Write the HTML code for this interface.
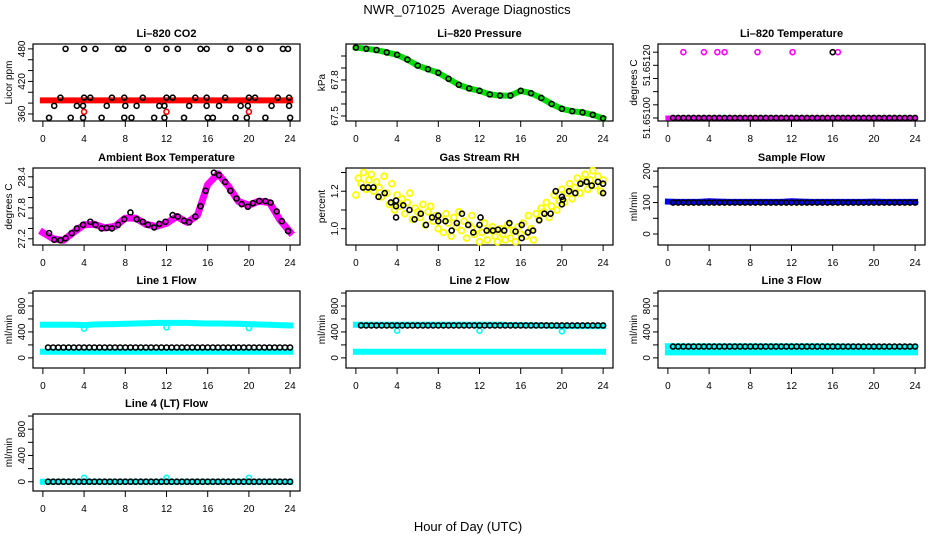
<!DOCTYPE html>
<html><head><meta charset="utf-8"><style>
html,body{margin:0;padding:0;background:#fff;}
svg{display:block;font-family:"Liberation Sans",Arial,sans-serif;}
</style></head><body>
<svg id="chart" width="936" height="540" viewBox="0 0 936 540" xmlns="http://www.w3.org/2000/svg">
<text x="467" y="14" text-anchor="middle" font-size="13" style="white-space:pre">NWR_071025&#160; Average Diagnostics</text>
<text x="468" y="531" text-anchor="middle" font-size="13">Hour of Day (UTC)</text>
</svg>
<script>
// ---------- shared data ----------
const xTicks = [0,4,8,12,16,20,24];
const hours = [0,1,2,3,4,5,6,7,8,9,10,11,12,13,14,15,16,17,18,19,20,21,22,23,24];
const halfHours = [0.5,1,1.5,2,2.5,3,3.5,4,4.5,5,5.5,6,6.5,7,7.5,8,8.5,9,9.5,10,10.5,11,11.5,12,12.5,13,13.5,14,14.5,15,15.5,16,16.5,17,17.5,18,18.5,19,19.5,20,20.5,21,21.5,22,22.5,23,23.5,24];

// CO2
const co2BandValues = [385,385,385,385,385,385,385,385,385,385,385,385,385,385,385,385,385,385,385,385,385,385,385,385,385];
const co2RedOutTimes = [4,12,20];
const co2RedOutValues = [364,364,364];
const co2BlackTimes = [2.2,4.0,5.1,7.3,7.8,10.2,12.0,13.1,15.3,15.9,18.2,20.0,21.1,23.3,23.8,
 1.7,4.0,4.6,6.7,7.9,9.7,12.0,12.6,14.8,15.9,17.7,20.0,20.6,22.8,23.9,
 1.1,3.3,3.9,6.2,8.0,9.1,11.3,11.8,14.2,15.9,17.1,19.2,19.9,22.2,23.9,
 0.6,2.7,3.9,5.7,7.9,8.6,10.8,11.8,13.7,16.0,16.5,18.7,19.8,21.6,24.0];
const co2BlackValues = [480,480,480,480,480,480,480,480,480,480,480,480,480,480,480,
 390,390,390,390,390,390,390,390,390,390,390,390,390,390,390,
 375,375,375,375,375,375,375,375,375,375,375,375,375,375,375,
 353,353,353,353,353,353,353,353,353,353,353,353,353,353,353];

// Pressure
const pressValues = [68.07,68.06,68.05,68.03,68.01,67.97,67.92,67.89,67.86,67.81,67.76,67.73,67.71,67.68,67.67,67.67,67.71,67.69,67.65,67.60,67.56,67.54,67.53,67.51,67.48];

// Li-820 temperature
const ltempBandValues = [51.651,51.651,51.651,51.651,51.651,51.651,51.651,51.651,51.651,51.651,51.651,51.651,51.651,51.651,51.651,51.651,51.651,51.651,51.651,51.651,51.651,51.651,51.651,51.651,51.651];
const ltempHighTimes = [1.5,3.5,4.8,5.5,8.7,12.1,16.5];
const ltempHighValues = [51.65125,51.65125,51.65125,51.65125,51.65125,51.65125,51.65125];
const ltempBlackHighTimes = [16.0];
const ltempBlackHighValues = [51.65125];
const ltempBlackValue = 51.651;

// Ambient box temperature
const ambBandValues = [27.32,27.20,27.17,27.33,27.47,27.48,27.41,27.44,27.60,27.60,27.48,27.44,27.50,27.63,27.52,27.65,28.25,28.46,28.22,27.92,27.85,27.93,27.90,27.57,27.33];
const ambBlackTimes = [0.6,1.1,1.7,2.2,2.8,3.3,3.9,4.6,5.1,5.7,6.2,6.7,7.3,7.9,8.5,9.1,9.7,10.2,10.8,11.3,11.9,12.6,13.1,13.7,14.2,14.8,15.3,15.8,16.6,17.1,17.7,18.2,18.8,19.3,19.9,20.4,21.0,21.6,22.1,22.7,23.2,23.8];
const ambBlackValues = [27.31,27.18,27.17,27.21,27.31,27.40,27.47,27.53,27.47,27.40,27.41,27.40,27.47,27.58,27.71,27.58,27.53,27.47,27.42,27.49,27.53,27.66,27.63,27.55,27.52,27.63,27.83,28.13,28.48,28.43,28.30,28.13,27.98,27.87,27.82,27.89,27.93,27.93,27.90,27.73,27.54,27.35];

// Gas stream RH (yellow every 0.25 h)
const rhYellowValues = [1.18,1.27,1.24,1.30,1.21,1.26,1.29,1.20,1.25,
 1.22,1.17,1.28,1.19,1.13,1.24,1.10,1.18,
 1.12,1.16,1.08,1.14,1.19,1.05,1.11,1.09,
 1.06,1.13,1.02,1.09,1.12,1.04,1.07,1.00,
 1.05,0.98,1.08,1.03,0.96,1.06,1.01,1.09,
 0.99,1.04,0.95,1.02,1.07,0.97,1.00,0.93,
 0.98,1.03,0.94,0.99,1.01,0.96,0.93,1.00,
 0.97,0.94,1.02,0.95,0.99,0.93,1.01,0.97,
 1.03,0.96,1.07,1.00,0.94,1.08,1.05,1.11,
 1.09,1.14,1.06,1.12,1.18,1.10,1.15,1.21,
 1.14,1.19,1.24,1.16,1.22,1.27,1.19,1.25,
 1.29,1.21,1.26,1.31,1.23,1.28,1.20,1.26];
const rhBlackTimes = [0.7,1.2,1.7,2.2,2.8,3.4,3.9,3.9,3.9,4.6,5.2,5.7,6.3,6.8,7.4,8.0,8.0,8.7,9.3,9.8,10.3,10.9,11.4,12.0,12.1,12.7,13.3,13.8,14.4,14.9,15.5,16.1,16.1,16.7,17.2,17.8,18.3,18.9,19.4,20.0,20.0,20.1,20.7,21.3,21.8,22.4,22.9,23.5,24.0,24.0];
const rhBlackValues = [1.22,1.22,1.22,1.17,1.19,1.14,1.15,1.12,1.06,1.125,1.10,1.05,1.08,1.02,1.06,1.07,1.04,1.04,0.99,1.03,1.08,1.02,0.98,1.02,1.06,0.99,0.99,0.995,0.99,1.03,0.985,1.02,0.95,0.98,0.99,1.045,1.08,1.08,1.20,1.17,1.13,1.155,1.20,1.19,1.24,1.25,1.23,1.25,1.24,1.19];

// Flows
const sampleBandValues = [103,102,102,102,104,103,102,102,102,102,102,102,104,103,102,102,102,102,102,102,103,102,102,102,102];
const sampleBlackValue = 100;
const line1UpperValues = [510,510,510,512,505,515,518,520,525,530,535,540,540,540,540,535,530,530,528,525,520,515,510,505,500];
const line1LowerValues = [95,95,95,95,95,95,95,95,95,95,95,95,95,95,95,95,95,95,95,95,95,95,95,95,95];
const line1OutTimes = [4,12,20];
const line1OutValues = [450,470,460];
const line1BlackValue = 160;
const line2UpperValues = [510,510,510,510,510,510,510,510,510,510,510,510,510,510,510,505,505,500,500,495,490,490,490,490,490];
const line2LowerValues = [95,95,95,95,95,95,95,95,95,95,95,95,95,95,95,95,95,95,95,95,95,95,95,95,95];
const line2OutTimes = [4,12,20];
const line2OutValues = [420,420,410];
const line2BlackValue = 500;
const line3UpperValues = [180,180,180,180,180,180,180,180,180,180,180,180,180,180,180,180,180,175,175,170,170,170,170,170,170];
const line3LowerValues = [85,85,85,85,85,85,85,85,85,85,85,85,85,85,85,85,85,85,85,85,85,85,85,85,85];
const line3BlackValue = 175;
const line4BandValues = [0,0,0,0,0,0,0,0,0,0,0,0,0,0,0,0,0,0,0,0,0,0,0,0,0];
const line4OutTimes = [4,12,20];
const line4OutValues = [60,60,60];
const line4BlackValue = 0;
const flowTicks = [0,200,400,600,800,1000];
const flowLabels = ["0","","400","","800",""];

// ---------- rendering ----------
const NS = "http://www.w3.org/2000/svg";
const svg = document.getElementById("chart");
const colX = [33, 346, 658];
const rowY = [44, 168, 291, 414];
const W = 267, H = 77;
const XLO = -0.96, XHI = 24.96;

function mk(tag, attrs, parent){
  const e = document.createElementNS(NS, tag);
  for (const k in attrs) e.setAttribute(k, attrs[k]);
  (parent||svg).appendChild(e);
  return e;
}
function makePanel(name, col, row, ylo, yhi, yticks, ylabels, title, ytitle, showXLabels){
  const x0 = colX[col], y0 = rowY[row];
  const g = mk("g", {});
  
  
  const p = {
    g,
    sx: h => x0 + (h - XLO) / (XHI - XLO) * W,
    sy: v => y0 + H - (v - ylo) / (yhi - ylo) * H
  };
  const t = mk("text", {x: x0 + W/2, y: y0 - 7, "text-anchor": "middle", "font-size": "11", "font-weight": "bold"}, g);
  t.textContent = title;
  
  
  const yt = mk("text", {transform: `translate(${x0-21},${y0+H/2}) rotate(-90)`, "text-anchor": "middle", "font-size": "10"}, g);
  yt.textContent = ytitle;
  
  
  yticks.forEach((v,i) => {
    const y = p.sy(v);
    mk("line", {x1: x0-5, x2: x0, y1: y, y2: y, stroke: "#000", "stroke-width": 1}, g);
    if (ylabels[i]) {
      const lt = mk("text", {transform: `translate(${x0-8},${y}) rotate(-90)`, "text-anchor": "middle", "font-size": "10"}, g);
      lt.textContent = ylabels[i];
      
      
    }
  });
  xTicks.forEach(h => {
    const x = p.sx(h);
    mk("line", {x1: x, x2: x, y1: y0+H, y2: y0+H+6, stroke: "#000", "stroke-width": 1}, g);
    if (showXLabels) {
      const xt = mk("text", {x: x, y: y0+H+21, "text-anchor": "middle", "font-size": "10"}, g);
      xt.textContent = String(h);
      
      
    }
  });
  const box = mk("rect", {x: x0, y: y0, width: W, height: H, fill: "none", stroke: "#000", "stroke-width": 1.2}, g);
  
  
  return p;
}
function band(p, times, values, color, width, name){
  const pts = times.map((h,i) => p.sx(h).toFixed(1) + "," + p.sy(values[i]).toFixed(1)).join(" ");
  const pl = mk("polyline", {points: pts, fill: "none", stroke: color, "stroke-width": width, "stroke-linejoin": "round", "stroke-linecap": "square"}, p.g);
  
  
}
function dots(p, times, values, color, name, r, sw){
  times.forEach((h,i) => {
    const c = mk("circle", {cx: p.sx(h), cy: p.sy(values[i]), r: r||2.5, fill: "none", stroke: color, "stroke-width": sw||1.6}, p.g);
    
    
  });
}
function constDots(p, times, value, color, name){
  times.forEach(h => {
    const c = mk("circle", {cx: p.sx(h), cy: p.sy(value), r: 2.5, fill: "none", stroke: color, "stroke-width": 1.6}, p.g);
    
    
  });
}

// CO2
let p = makePanel("co2", 0, 0, 347, 489, [360,380,400,420,440,460,480], ["360","","","420","","","480"], "Li\u2013820 CO2", "Licor ppm", true);
band(p, hours, co2BandValues, "#ff0000", 6, "co2-red-band");
dots(p, co2RedOutTimes, co2RedOutValues, "#ff0000", "co2-red-point");
dots(p, co2BlackTimes, co2BlackValues, "#000", "co2-black-point");

// Pressure
p = makePanel("pressure", 1, 0, 67.458, 68.10, [67.5,67.6,67.7,67.8,67.9,68.0], ["67.5","","","67.8","",""], "Li\u2013820 Pressure", "kPa", true);
band(p, hours, pressValues, "#00dd00", 6, "pressure-green-band");
dots(p, hours, pressValues, "#000", "pressure-black-point");

// Li-820 Temperature
p = makePanel("li820-temp", 2, 0, 51.6509885, 51.651281, [51.651,51.65105,51.6511,51.65115,51.6512,51.65125], ["51.65100","","","","51.65120",""], "Li\u2013820 Temperature", "degrees C", true);
band(p, hours, ltempBandValues, "#ff00ff", 5, "li820-temp-magenta-band");
dots(p, ltempHighTimes, ltempHighValues, "#ff00ff", "li820-temp-magenta-point");
dots(p, ltempBlackHighTimes, ltempBlackHighValues, "#000", "li820-temp-black-point");
constDots(p, halfHours, ltempBlackValue, "#000", "li820-temp-black-point");

// Ambient Box Temperature
p = makePanel("ambient-temp", 0, 1, 27.08, 28.57, [27.2,27.4,27.6,27.8,28.0,28.2,28.4], ["27.2","","","27.8","","","28.4"], "Ambient Box Temperature", "degrees C", true);
band(p, hours, ambBandValues, "#ff00ff", 7, "ambient-temp-magenta-band");
dots(p, ambBlackTimes, ambBlackValues, "#000", "ambient-temp-black-point");

// Gas Stream RH
p = makePanel("gas-rh", 1, 1, 0.913, 1.324, [1.0,1.1,1.2,1.3], ["1.0","","1.2",""], "Gas Stream RH", "percent", true);
const rhTimes = rhYellowValues.map((v,i) => i * 0.25);
dots(p, rhTimes, rhYellowValues, "#ffff00", "gas-rh-yellow-point", 2.9, 1.9);
dots(p, rhBlackTimes, rhBlackValues, "#000", "gas-rh-black-point");

// Sample Flow
p = makePanel("sample-flow", 2, 1, -35, 210, [0,50,100,150,200], ["0","","100","","200"], "Sample Flow", "ml/min", true);
band(p, hours, sampleBandValues, "#0000ff", 6, "sample-flow-blue-band");
constDots(p, halfHours, sampleBlackValue, "#000", "sample-flow-black-point");

// Line 1
p = makePanel("line1-flow", 0, 2, -156, 1031, flowTicks, flowLabels, "Line 1 Flow", "ml/min", true);
band(p, hours, line1UpperValues, "#00ffff", 6, "line1-cyan-upper-band");
band(p, hours, line1LowerValues, "#00ffff", 6, "line1-cyan-lower-band");
dots(p, line1OutTimes, line1OutValues, "#00ffff", "line1-cyan-point");
constDots(p, halfHours, line1BlackValue, "#000", "line1-black-point");

// Line 2
p = makePanel("line2-flow", 1, 2, -156, 1031, flowTicks, flowLabels, "Line 2 Flow", "ml/min", true);
band(p, hours, line2UpperValues, "#00ffff", 6, "line2-cyan-upper-band");
band(p, hours, line2LowerValues, "#00ffff", 6, "line2-cyan-lower-band");
dots(p, line2OutTimes, line2OutValues, "#00ffff", "line2-cyan-point");
constDots(p, halfHours, line2BlackValue, "#000", "line2-black-point");

// Line 3
p = makePanel("line3-flow", 2, 2, -156, 1031, flowTicks, flowLabels, "Line 3 Flow", "ml/min", true);
band(p, hours, line3UpperValues, "#00ffff", 6, "line3-cyan-upper-band");
band(p, hours, line3LowerValues, "#00ffff", 6, "line3-cyan-lower-band");
constDots(p, halfHours, line3BlackValue, "#000", "line3-black-point");

// Line 4
p = makePanel("line4-flow", 0, 3, -141, 1031, flowTicks, flowLabels, "Line 4 (LT) Flow", "ml/min", true);
band(p, hours, line4BandValues, "#00ffff", 6, "line4-cyan-band");
dots(p, line4OutTimes, line4OutValues, "#00ffff", "line4-cyan-point");
constDots(p, halfHours, line4BlackValue, "#000", "line4-black-point");
</script>
</body></html>
